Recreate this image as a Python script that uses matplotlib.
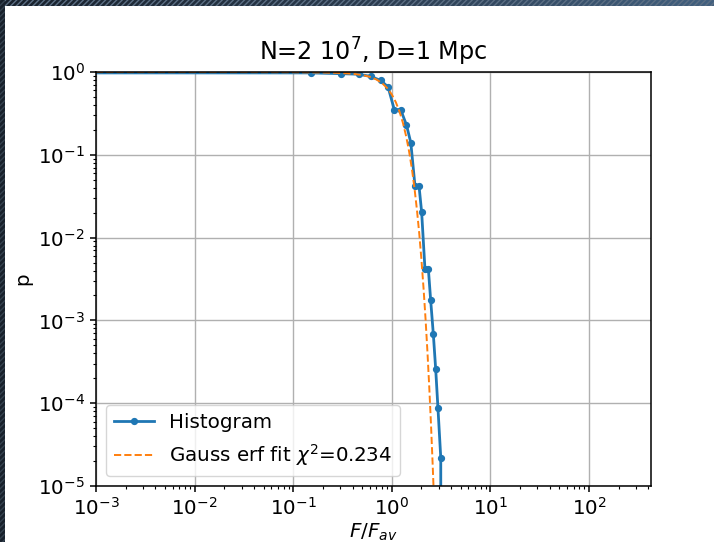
import numpy as np
import matplotlib
import matplotlib.pyplot as plt
import matplotlib.ticker as mticker
from matplotlib.colors import LinearSegmentedColormap
from matplotlib.patches import Rectangle

matplotlib.use("Agg")

# histogram of F/F_av (survival probability)
hist_x = [0.0, 0.151, 0.304, 0.46, 0.61, 0.774, 0.917, 1.06, 1.23, 1.41, 1.56,
          1.72, 1.89, 2.01, 2.17, 2.35, 2.48, 2.64, 2.79, 2.94, 3.14, 3.30]
hist_p = [1.0, 0.975, 0.955, 0.94, 0.885, 0.79, 0.66, 0.352, 0.352, 0.229, 0.140,
          0.042, 0.042, 0.0202, 0.0042, 0.0042, 0.00176, 6.8e-4, 2.57e-4, 8.8e-5,
          2.2e-5, 0.0]

# Gauss erf fit
fit_x = [0.001, 0.01, 0.03, 0.1, 0.2, 0.3, 0.4, 0.5, 0.6, 0.7, 0.8, 0.9, 1.0,
         1.1, 1.2, 1.3, 1.4, 1.5, 1.6, 1.7, 1.8, 1.9, 2.0, 2.1, 2.2, 2.3, 2.4,
         2.5, 2.6, 2.7, 2.8]
fit_p = [0.9968, 0.9967, 0.9964, 0.9931, 0.9861, 0.9738, 0.9525, 0.9207, 0.874,
         0.811, 0.731, 0.638, 0.536, 0.431, 0.331, 0.241, 0.167, 0.109, 0.0677,
         0.0395, 0.0216, 0.0112, 0.0054, 0.00245, 0.00105, 4.2e-4, 1.57e-4,
         5.5e-5, 1.8e-5, 5.5e-6, 1.6e-6]

plt.rcParams["font.size"] = 14.3
plt.rcParams["axes.linewidth"] = 1.1
plt.rcParams["xtick.major.width"] = 1.1
plt.rcParams["ytick.major.width"] = 1.1
plt.rcParams["xtick.minor.width"] = 0.8
plt.rcParams["ytick.minor.width"] = 0.8
plt.rcParams["xtick.major.size"] = 4.5
plt.rcParams["ytick.major.size"] = 4.5
plt.rcParams["xtick.minor.size"] = 2.5
plt.rcParams["ytick.minor.size"] = 2.5

fig = plt.figure(figsize=(7.14, 5.42), dpi=100)

# dark slide frame (top and left strips)
W, H = 714, 542
band = fig.add_axes([0, 1 - 6 / H, 1, 6 / H])
cmap = LinearSegmentedColormap.from_list("frame", ["#18212c", "#2a3a4d", "#42607f"])
band.imshow(np.linspace(0, 1, 200).reshape(1, -1), cmap=cmap, aspect="auto",
            extent=[0, 1, 0, 1])
band.add_patch(Rectangle((0, 0), 1, 1, fill=False, hatch="//////",
                         edgecolor="#5c6f84", lw=0))
band.set_axis_off()
fig.patches.append(Rectangle((0, 0), 5 / W, 1, transform=fig.transFigure,
                             facecolor="#18212c", edgecolor="#34424f",
                             hatch="//////", lw=0, zorder=0))

ax = fig.add_axes([96 / W, 1 - 486 / H, 555 / W, 414 / H])
ax.plot(hist_x, hist_p, "o-", color="C0", lw=2.0, ms=4.2, label="Histogram")
ax.plot(fit_x, fit_p, "--", color="C1", lw=1.4,
        label=r"Gauss erf fit $\chi^2$=0.234")
ax.set_xscale("log")
ax.set_yscale("log")
ax.set_xlim(1e-3, 426)
ax.set_ylim(1e-5, 1)
for axis in (ax.xaxis, ax.yaxis):
    axis.set_major_locator(mticker.LogLocator(base=10, numticks=20))
    axis.set_minor_locator(mticker.LogLocator(base=10, subs=np.arange(2, 10),
                                              numticks=100))
    axis.set_minor_formatter(mticker.NullFormatter())
ax.grid(True, color="#b0b0b0", lw=1.0)
ax.set_xlabel(r"$F/F_{av}$", labelpad=2)
ax.set_ylabel("p")
ax.set_title(r"N=2 $10^7$, D=1 Mpc", fontsize=17.2, pad=8)
ax.legend(loc="lower left")

fig.savefig("out.png", dpi=100)
